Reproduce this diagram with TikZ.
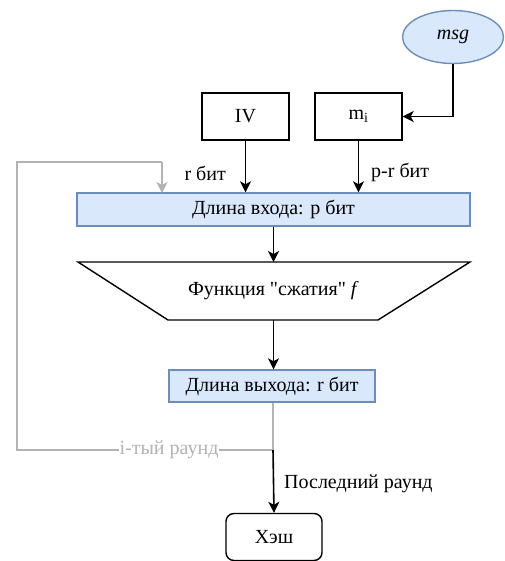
\documentclass[tikz,border=0pt]{standalone}
\usepackage{fontspec}
\setmainfont{Liberation Serif}
\newfontfamily\plainq{Liberation Serif}
\usetikzlibrary{arrows.meta,shapes.geometric}
\definecolor{bfill}{HTML}{DAE8FC}
\definecolor{bdraw}{HTML}{6C8EBF}
\definecolor{gline}{HTML}{B3B3B3}
\begin{document}
\begin{tikzpicture}[x=1pt,y=-1pt,
  every node/.style={font=\fontsize{20}{24}\selectfont, inner sep=0pt},
  box/.style={draw=black, line width=1.4pt, minimum width=87pt, minimum height=47pt},
  bluebox/.style={draw=bdraw, fill=bfill, line width=1.4pt},
  arr/.style={draw=black, line width=1.6pt, -{Stealth[length=11pt,width=11pt,inset=3pt]}},
  garr/.style={draw=gline, line width=1.6pt, -{Stealth[length=11pt,width=11pt,inset=3pt]}},
  gline/.style={draw=gline, line width=1.6pt}]
\useasboundingbox (0,0) rectangle (504,561);
\node[ellipse, draw=bdraw, fill=bfill, line width=1.4pt, minimum width=101pt, minimum height=53pt] (msg) at (453,37) {\textit{msg}};
\node[box] (iv) at (245.5,116.5) {IV};
\node[box] (mi) at (358.5,116.5) {m\textsubscript{i}};
\node[bluebox, minimum width=393pt, minimum height=33pt] (in) at (273.5,209.5) {Длина входа: p бит};
\coordinate (ftl) at (78,262);
\coordinate (ftr) at (470,262);
\coordinate (fbr) at (378,320);
\coordinate (fbl) at (168,320);
\coordinate (ftop) at (273.5,262);
\coordinate (fbot) at (273.5,320);
\draw[line width=1.4pt, line join=miter] (ftl) -- (ftr) -- (fbr) -- (fbl) -- cycle;
\node (f) at (273.5,291) {Функция {\plainq"}сжатия{\plainq"} \textit{f}};
\node[bluebox, minimum width=206pt, minimum height=32pt] (out) at (272,386) {Длина выхода: r бит};
\node[draw=black, line width=1.4pt, rounded corners=8pt, minimum width=96pt, minimum height=47pt] (hash) at (274,537) {Хэш};
\coordinate (j) at (273,450);
\coordinate (l1) at (17,450);
\coordinate (l2) at (17,162);
\coordinate (l3) at (162,162);
\coordinate (l4) at (162,193);
\draw[arr] (msg.south) |- (mi.east);
\draw[arr] (iv.south) -- (iv.south |- in.north);
\draw[arr] (mi.south) -- (mi.south |- in.north);
\draw[arr] (in.south -| ftop) -- (ftop);
\draw[arr] (fbot) -- (fbot |- out.north);
\draw[gline] (out.south -| j) -- (j) -- (l1) -- (l2) -- (l3);
\draw[garr] (l3) -- (l4);
\node[fill=white, text=gline, inner xsep=1pt, inner ysep=2pt] (ir) at (169,450) {i-тый раунд};
\draw[arr] (j) -- (hash.north);
\node[anchor=west] (last) at (284,484) {Последний раунд};
\node[anchor=east] (rb) at (226,173) {r бит};
\node[anchor=west] (prb) at (371,172) {p-r бит};
\end{tikzpicture}
\end{document}
